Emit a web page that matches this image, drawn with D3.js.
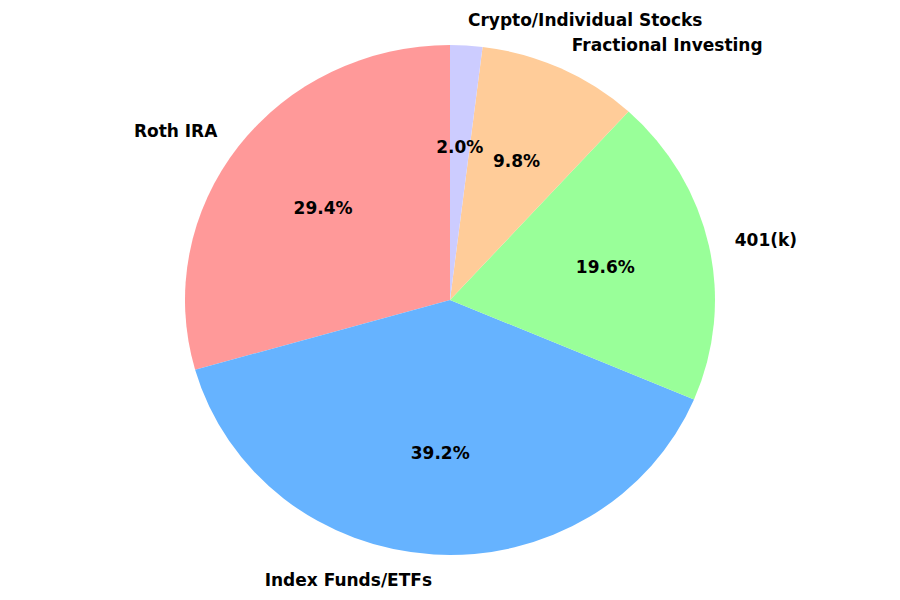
<!DOCTYPE html><html><head><script src="https://cdn.jsdelivr.net/npm/d3@7"></script>
<style>body{margin:0;background:#fff}</style></head><body><svg id="c" width="900" height="600"></svg>
<script>
const categories=["Roth IRA","Index Funds/ETFs","401(k)","Fractional Investing","Crypto/Individual Stocks"];
const values=[15,20,10,5,1];
const colors=["#ff9999","#66b3ff","#99ff99","#ffcc99","#ccccff"];
const cx=450,cy=300,rx=265,ry=255;
const svg=d3.select("#c");
const total=d3.sum(values);
const g=svg.append("g").attr("transform",`translate(${cx},${cy}) scale(1,${ry/rx})`);
const arc=d3.arc().innerRadius(0).outerRadius(rx);
let cum=0;
const slices=values.map((v,i)=>{const s=cum;cum+=v/total;return {i,v,s,e:cum};});
g.selectAll("path").data(slices).enter().append("path")
 .attr("d",d=>arc({startAngle:-d.e*2*Math.PI,endAngle:-d.s*2*Math.PI}))
 .attr("fill",d=>colors[d.i]);
const font="DejaVu Sans, sans-serif";
slices.forEach(d=>{
 const th=(90+(d.s+d.e)/2*360)*Math.PI/180;
 const c=Math.cos(th),s=Math.sin(th);
 svg.append("text").attr("x",cx+1.1*rx*c).attr("y",cy-1.1*ry*s)
  .attr("text-anchor",c>=0?"start":"end").attr("dominant-baseline","central")
  .attr("font-family",font).attr("font-weight","bold").attr("font-size",17)
  .text(categories[d.i]);
 svg.append("text").attr("x",cx+0.6*rx*c).attr("y",cy-0.6*ry*s)
  .attr("text-anchor","middle").attr("dominant-baseline","central")
  .attr("font-family",font).attr("font-weight","bold").attr("font-size",17)
  .text((d.v/total*100).toFixed(1)+"%");
});
</script></body></html>
